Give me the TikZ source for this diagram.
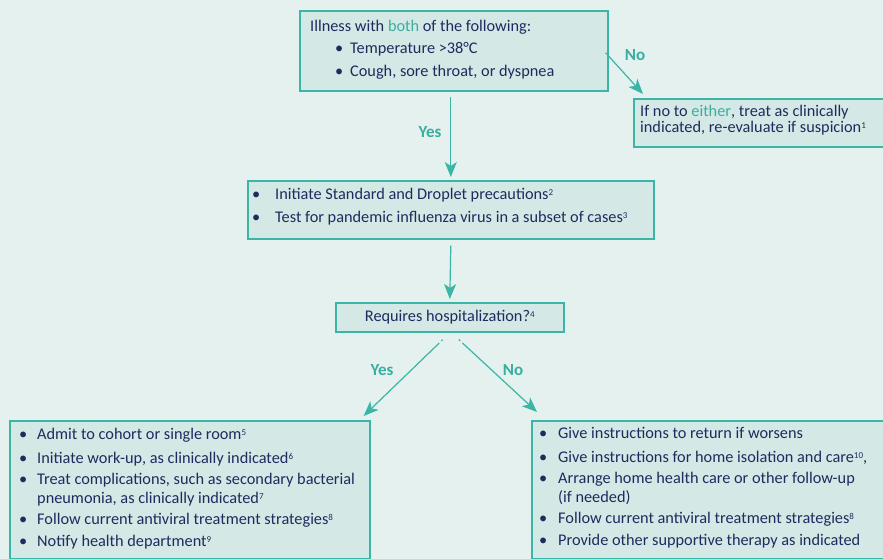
\documentclass[tikz,border=0pt]{standalone}
\usepackage{fontspec}
\setmainfont{Carlito}
\usetikzlibrary{arrows.meta,calc}
\definecolor{bgc}{HTML}{E4F1EF}
\definecolor{boxfill}{HTML}{D4E8E6}
\definecolor{tealb}{HTML}{3BB5A5}
\definecolor{teall}{HTML}{3AAE9F}
\definecolor{navy}{HTML}{1D2C5E}
\newcommand{\hl}[1]{\textcolor{teall}{#1}}
\newcommand{\bul}[1]{\makebox[#1][l]{\textbullet}}
\newcommand{\sups}[1]{\smash{\raisebox{4pt}{\fontsize{9}{9}\selectfont #1}}}
\tikzset{
  box/.style={draw=tealb, line width=1.6pt, fill=boxfill, anchor=north west, inner sep=0pt},
  txt/.style={anchor=north west, align=left, text=navy, inner sep=0pt},
  arr/.style={draw=tealb, line width=1.2pt, -{Stealth[length=15pt,width=12pt,inset=4pt]}},
  darr/.style={arr, dash pattern=on 2pt off 3pt on 400pt},
  lbl/.style={text=teall, font=\fontsize{17}{18}\selectfont\bfseries, inner sep=0pt}
}
\begin{document}
\begin{tikzpicture}[x=1pt,y=-1pt]
\path[use as bounding box, clip] (0,0) rectangle (883,559);
\fill[bgc] (0,0) rectangle (883,559);

% boxes
\node[box, minimum width=308pt, minimum height=80pt] (b1) at (299,10) {};
\node[box, minimum width=252pt, minimum height=48pt] (bno) at (633,98) {};
\node[box, minimum width=406pt, minimum height=58pt] (b2) at (247,180) {};
\node[box, minimum width=228pt, minimum height=29pt] (b3) at (335,302) {};
\node[box, minimum width=360pt, minimum height=138pt] (bl) at (9,420) {};
\node[box, minimum width=360pt, minimum height=138pt] (br) at (531,420) {};

% texts
\node[txt, font=\fontsize{16.3}{22.5}\selectfont] (t1) at (310,19.5)
 {Illness with \hl{both} of the following:\\
  \hspace*{25pt}\bul{15pt}Temperature >38°C\\
  \hspace*{25pt}\bul{15pt}Cough, sore throat, or dyspnea};
\node[txt, font=\fontsize{16.3}{16}\selectfont] (tno) at (640,105)
 {If no to \hl{either}, treat as clinically\\
  indicated, re-evaluate if suspicion\sups{1}};
\node[txt, font=\fontsize{16.3}{23}\selectfont] (t2) at (252,188)
 {\bul{23pt}Initiate Standard and Droplet precautions\sups{2}\\
  \bul{23pt}Test for pandemic influenza virus in a subset of cases\sups{3}};
\node[text=navy, font=\fontsize{16.3}{16}\selectfont, inner sep=0pt] (t3) at (b3.center)
 {Requires hospitalization?\sups{4}};
\node[txt, font=\fontsize{16.3}{19}\selectfont] (tl) at (19,427.5)
 {\bul{18pt}Admit to cohort or single room\sups{5}\\[5pt]
  \bul{18pt}Initiate work-up, as clinically indicated\sups{6}\\[2pt]
  \bul{18pt}Treat complications, such as secondary bacterial\\
  \hspace*{18pt}pneumonia, as clinically indicated\sups{7}\\[2pt]
  \bul{18pt}Follow current antiviral treatment strategies\sups{8}\\[3pt]
  \bul{18pt}Notify health department\sups{9}};
\node[txt, font=\fontsize{16.3}{19}\selectfont] (tr) at (539,427.5)
 {\bul{19pt}Give instructions to return if worsens\\[5pt]
  \bul{19pt}Give instructions for home isolation and care\sups{10},\\[2pt]
  \bul{19pt}Arrange home health care or other follow-up\\
  \hspace*{19pt}(if needed)\\[2pt]
  \bul{19pt}Follow current antiviral treatment strategies\sups{8}\\[3pt]
  \bul{19pt}Provide other supportive therapy as indicated};

% connectors
\draw[arr] ([xshift=-3pt,yshift=-5pt]b1.south) -- ([yshift=3pt]b2.north);
\draw[arr] ([yshift=-6pt]b2.south) -- ([yshift=3pt]b3.north);
\draw[darr] ([xshift=-3pt,yshift=-2pt]b1.east) -- ([xshift=10pt,yshift=4pt]bno.north west);
\draw[darr] ([xshift=-7pt,yshift=-7pt]b3.south) -- ([xshift=-7pt,yshift=4pt]bl.north east);
\draw[darr] ([xshift=9pt,yshift=-7pt]b3.south) -- ([xshift=6pt,yshift=8pt]br.north west);

% labels
\node[lbl] (ly1) at (430,132) {Yes};
\node[lbl] (ln1) at (635,55) {No};
\node[lbl] (ly2) at (382,370) {Yes};
\node[lbl] (ln2) at (513,370) {No};
\end{tikzpicture}
\end{document}
